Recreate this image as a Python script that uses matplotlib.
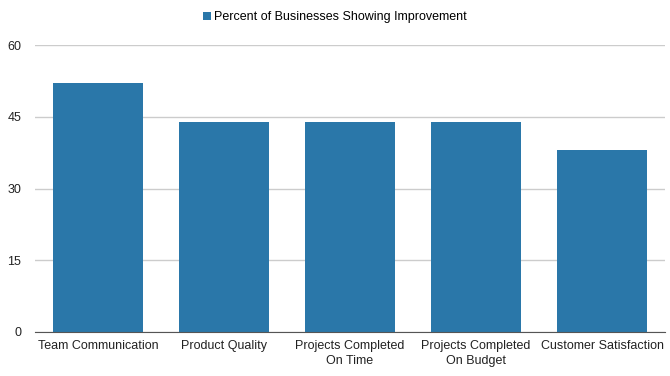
import matplotlib.pyplot as plt

categories = ['Team Communication', 'Product Quality', 'Projects Completed\nOn Time',
              'Projects Completed\nOn Budget', 'Customer Satisfaction']
values = [52, 44, 44, 44, 38]
yticks = [0, 15, 30, 45, 60]

plt.rcParams['font.family'] = ['Liberation Sans', 'DejaVu Sans']

fig = plt.figure(figsize=(6.7, 3.76), dpi=100)
ax = fig.add_axes([35 / 670, 1 - 332 / 376, 630 / 670, 287 / 376])

x = range(len(categories))
ax.bar(x, values, width=0.71, color='#2a77a9', zorder=3, label='Percent of Businesses Showing Improvement')

ax.set_xlim(-0.5, len(categories) - 0.5)
ax.set_ylim(0, 60)
ax.set_yticks(yticks)
ax.set_xticks(list(x))
ax.set_xticklabels(categories, fontsize=9, color='#222222', linespacing=1.35)
ax.tick_params(axis='y', labelsize=9, colors='#222222', length=0, pad=10)
ax.tick_params(axis='x', length=0, pad=6)
ax.grid(axis='y', color='#cccccc', linewidth=1, zorder=0)

for s in ['top', 'right', 'left']:
    ax.spines[s].set_visible(False)
ax.spines['bottom'].set_color('#555555')
ax.spines['bottom'].set_zorder(4)

fig.legend(loc='upper center', bbox_to_anchor=(0.5, 1.0), frameon=False, fontsize=9,
           handlelength=0.6, handleheight=0.6, handletextpad=0.3)

fig.savefig('out.png', dpi=100)
